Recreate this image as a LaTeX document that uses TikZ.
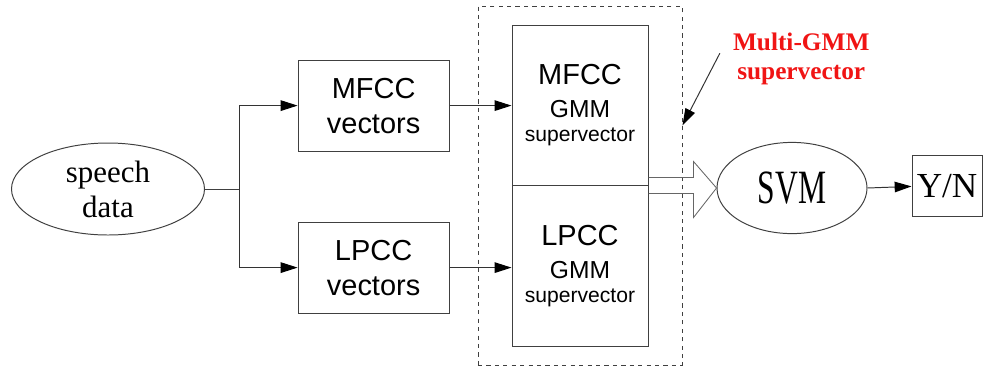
\documentclass[tikz,border=0pt]{standalone}
\usepackage{fontspec}
\setmainfont{Liberation Serif}
\setsansfont{Liberation Sans}
\newfontfamily\narrowserif[FakeStretch=0.66]{Liberation Serif}
\usepackage{xcolor}
\usetikzlibrary{shapes.geometric, arrows.meta, positioning, calc, fit}

\definecolor{labelred}{RGB}{240,20,20}

\begin{document}
\begin{tikzpicture}[
    line width=0.7pt,
    vecbox/.style={draw=black!75, rectangle, minimum width=3.775cm, minimum height=2.275cm, inner sep=0pt, align=center, font=\sffamily\fontsize{20.6}{24.9}\selectfont},
    gmmbox/.style={draw=black!75, rectangle, minimum width=3.4cm, minimum height=4.0cm, inner sep=0pt, align=center, font=\sffamily\fontsize{17.5}{21}\selectfont},
    oval/.style={draw=black!75, ellipse, inner sep=0pt, align=center},
    arrow/.style={-{Triangle[length=12pt,width=7.5pt,color=black]}, draw=black!80},
    hollow/.style={draw=black!60, line width=0.6pt}
]
\useasboundingbox (0,0) rectangle (24.6,-9.2);

% inputs
\node[oval, minimum width=4.825cm, minimum height=2.3cm, font=\fontsize{22}{25}\selectfont] (speech) at (2.7,-4.725) {speech\\data};
\node[vecbox] (mfccv) at (9.34,-2.64) {MFCC\\vectors};
\node[vecbox] (lpccv) at (9.34,-6.69) {LPCC\\vectors};

% supervectors
\node[gmmbox] (mfccg) at (14.5,-2.625) {{\fontsize{20.6}{24}\selectfont MFCC}\\[2pt]GMM\\[-4pt]{\fontsize{15}{18}\selectfont supervector}};
\node[gmmbox, below=0pt of mfccg] (lpccg) {{\fontsize{20.6}{24}\selectfont LPCC}\\[2pt]GMM\\[-4pt]{\fontsize{15}{18}\selectfont supervector}};
\node[draw=black!75, dashed, line width=0.5pt, fit=(mfccg) (lpccg), inner xsep=0.84cm, inner ysep=0.46cm] (multi) {};

% classifier
\node[oval, minimum width=3.75cm, minimum height=2.28cm, font=\narrowserif\fontsize{34}{36}\selectfont] (svm) at (19.8,-4.7) {SVM};
\node[draw=black!75, rectangle, minimum width=1.75cm, minimum height=1.525cm, inner sep=0pt, font=\fontsize{25}{28}\selectfont] (yn) at (23.675,-4.66) {Y/N};

\node[align=center, text=labelred, font=\bfseries\fontsize{18}{20.6}\selectfont] (label) at (20.03,-1.48) {Multi-GMM\\supervector};

\coordinate (split) at ([xshift=0.85cm]speech.east);
\coordinate (pointee) at ($(multi.north east)!0.333!(multi.south east)$);

\draw[draw=black!75] (speech.east) -- (split);
\draw[arrow] (split) |- (mfccv.west);
\draw[arrow] (split) |- (lpccv.west);
\draw[arrow] (mfccv.east) -- (mfccv.east -| mfccg.west);
\draw[arrow] (lpccv.east) -- (lpccv.east -| lpccg.west);
\draw[arrow] (svm.east) -- (yn.west);
\draw[arrow] ([xshift=-0.2cm,yshift=0.15cm]label.west) -- (pointee);

% hollow arrow into the SVM
\draw[hollow] ($(mfccg.south east)+(0,0.2)$) -- ($(mfccg.south east)+(1.125,0.2)$)
    -- ($(mfccg.south east)+(1.125,0.6)$) -- (svm.west)
    -- ($(mfccg.south east)+(1.125,-0.8)$) -- ($(mfccg.south east)+(1.125,-0.2)$)
    -- ($(mfccg.south east)+(0,-0.2)$);

\end{tikzpicture}
\end{document}
